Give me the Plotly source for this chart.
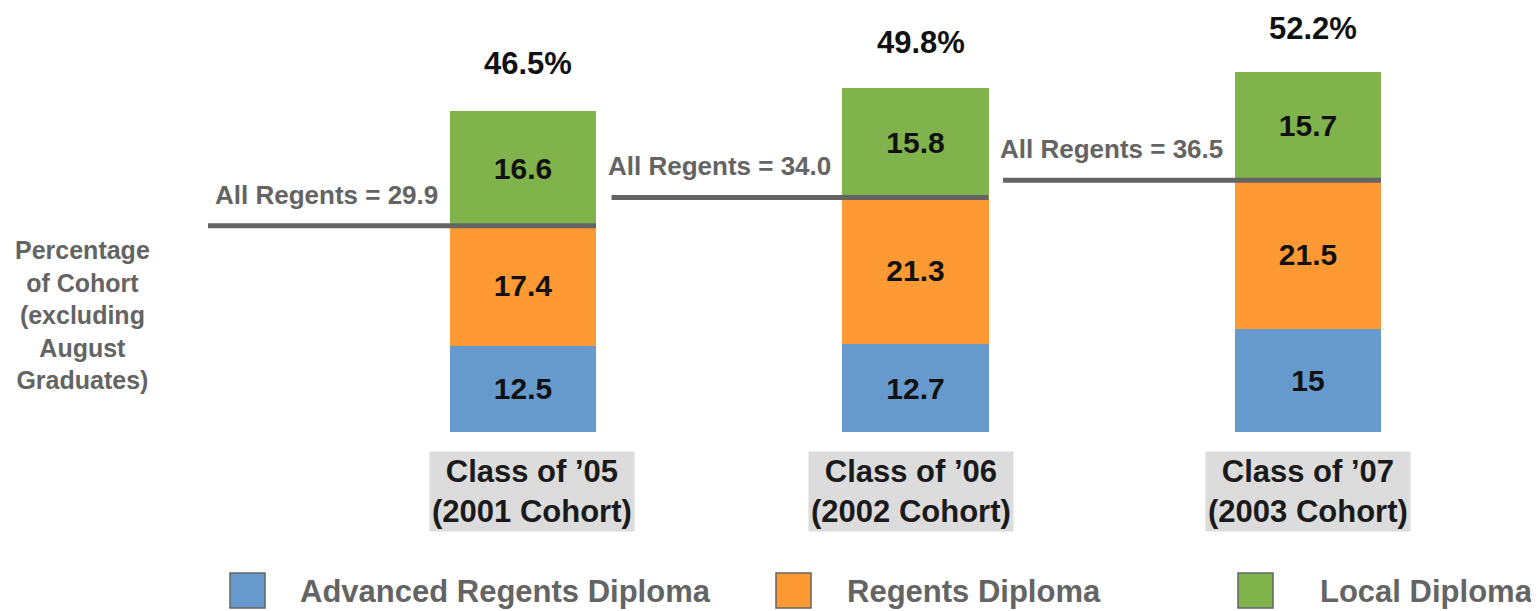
import plotly.graph_objects as go

categories = ["Class of \u201905<br>(2001 Cohort)", "Class of \u201906<br>(2002 Cohort)", "Class of \u201907<br>(2003 Cohort)"]
advanced = [12.5, 12.7, 15]
regents = [17.4, 21.3, 21.5]
local = [16.6, 15.8, 15.7]
totals = [46.5, 49.8, 52.2]
all_regents = [29.9, 34.0, 36.5]
series_names = ["Advanced Regents Diploma", "Regents Diploma", "Local Diploma"]
colors = ["#6699CC", "#FF9933", "#80B34C"]

FONT = "Liberation Sans, Arial, sans-serif"
GREY = "#646464"
W, H, OFF = 1531, 603, 8
xs = [0, 1, 2]
BW = 0.372


def px(x):
    return (x - OFF) / W


def py(y):
    return 1 - (y - OFF) / H


fig = go.Figure()
for vals, name, col in zip([advanced, regents, local], series_names, colors):
    fig.add_trace(go.Bar(
        x=xs, y=vals, name=name, marker=dict(color=col, line=dict(width=0)),
        width=BW, text=[f"{v:g}" for v in vals], textposition="inside",
        insidetextanchor="middle",
        textfont=dict(family=FONT, size=30, color="#111111"),
        texttemplate="<b>%{text}</b>", showlegend=False, hoverinfo="skip"))

# All Regents lines
line_start = [-0.8025, 0.2255, 1.223]
for i, v in enumerate(all_regents):
    fig.add_trace(go.Scatter(
        x=[line_start[i], xs[i] + BW / 2], y=[v, v], mode="lines",
        line=dict(color=GREY, width=5), showlegend=False, hoverinfo="skip"))
    fig.add_annotation(x=xs[i] - BW / 2 - 0.025, y=v, text=f"<b>All Regents = {v:.1f}</b>",
                       showarrow=False, xanchor="right", yanchor="bottom", yshift=14,
                       font=dict(family=FONT, size=26, color=GREY))

total_shift = [48, 46, 43]
cat_xshift = [9, -5, 0]
for i, t in enumerate(totals):
    fig.add_annotation(x=xs[i], y=t, text=f"<b>{t}%</b>", showarrow=False,
                       xanchor="center", yanchor="middle", yshift=total_shift[i], xshift=5,
                       font=dict(family=FONT, size=31, color="#111111"))
    fig.add_annotation(x=xs[i], y=0, text=f"<b>{categories[i]}</b>", showarrow=False,
                       xanchor="center", yanchor="top", yshift=-19, xshift=cat_xshift[i],
                       bgcolor="#DCDCDC", borderpad=2,
                       font=dict(family=FONT, size=31, color="#1a1a1a"))

fig.add_annotation(xref="paper", yref="paper", x=px(82), y=py(315),
                   text="<b>Percentage<br>of Cohort<br>(excluding<br>August<br>Graduates)</b>",
                   showarrow=False, align="center", xanchor="center", yanchor="middle",
                   font=dict(family=FONT, size=25, color=GREY))

# custom legend
leg_x = [230, 776, 1238]
leg_text_x = [298, 845, 1318]
for lx, tx, name, col in zip(leg_x, leg_text_x, series_names, colors):
    fig.add_shape(type="rect", xref="paper", yref="paper",
                  x0=px(lx), x1=px(lx + 35), y0=py(608), y1=py(573),
                  fillcolor=col, line=dict(color=GREY, width=1.5))
    fig.add_annotation(xref="paper", yref="paper", x=px(tx), y=py(591),
                       text=f"<b>{name}</b>", showarrow=False,
                       xanchor="left", yanchor="middle",
                       font=dict(family=FONT, size=31, color=GREY))

x0 = -(523 - OFF) / 392.5
y_top = (432 - OFF) / 6.9
fig.update_layout(
    barmode="stack", width=W, height=H,
    margin=dict(l=0, r=0, t=0, b=0),
    paper_bgcolor="white", plot_bgcolor="white",
    xaxis=dict(range=[x0, x0 + W / 392.5], visible=False, fixedrange=True),
    yaxis=dict(range=[y_top - H / 6.9, y_top], visible=False, fixedrange=True),
    uniformtext=dict(minsize=8, mode="show"),
)
fig.write_html("out.html")
